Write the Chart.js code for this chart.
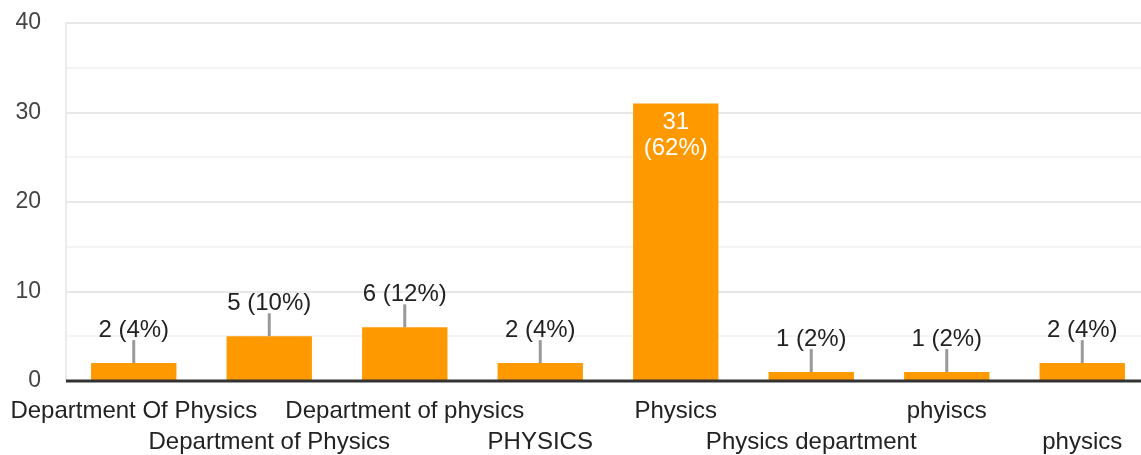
<!DOCTYPE html>
<html lang="en">
<head>
    <meta charset="UTF-8">
    <title>Department responses</title>
    <script src="https://cdn.jsdelivr.net/npm/chart.js"></script>
    <style>
        html, body {
            margin: 0;
            padding: 0;
            background: #ffffff;
            overflow: hidden;
        }
        .chart-box {
            position: relative;
            width: 1150px; /* plot runs slightly past the right edge in the original */
            height: 455px;
        }
    </style>
</head>
<body>
    <div class="chart-box">
        <canvas id="deptChart"></canvas>
    </div>

    <script>
        const categories = [
            'Department Of Physics',
            'Department of Physics',
            'Department of physics',
            'PHYSICS',
            'Physics',
            'Physics department',
            'phyiscs',
            'physics'
        ];
        const counts = [2, 5, 6, 2, 31, 1, 1, 2];
        const totalResponses = 50;
        const yTicks = [0, 10, 20, 30, 40];

        // alternate labels between the two rows under the axis
        const staggeredLabels = categories.map((c, i) => i % 2 === 0 ? [c, ''] : ['', c]);

        const fontFamily = "'Liberation Sans', Arial, sans-serif";

        const barLabels = {
            id: 'barLabels',
            afterDatasetsDraw(chart) {
                const ctx = chart.ctx;
                const meta = chart.getDatasetMeta(0);
                const area = chart.chartArea;
                const zeroY = chart.scales.y.getPixelForValue(0);

                ctx.save();
                // dark baseline
                ctx.strokeStyle = '#333333';
                ctx.lineWidth = 3;
                ctx.beginPath();
                ctx.moveTo(area.left, zeroY);
                ctx.lineTo(area.right, zeroY);
                ctx.stroke();

                ctx.font = '24px ' + fontFamily;
                ctx.textAlign = 'center';
                meta.data.forEach((bar, i) => {
                    const v = counts[i];
                    const pct = Math.round(v / totalResponses * 100);
                    if (v > 20) {
                        ctx.fillStyle = '#ffffff';
                        ctx.textBaseline = 'middle';
                        ctx.fillText(String(v), bar.x, bar.y + 19);
                        ctx.fillText('(' + pct + '%)', bar.x, bar.y + 45);
                    } else {
                        ctx.strokeStyle = '#999999';
                        ctx.lineWidth = 3;
                        ctx.beginPath();
                        ctx.moveTo(bar.x, bar.y);
                        ctx.lineTo(bar.x, bar.y - 23);
                        ctx.stroke();
                        ctx.fillStyle = '#222222';
                        ctx.textBaseline = 'alphabetic';
                        ctx.fillText(v + ' (' + pct + '%)', bar.x, bar.y - 26);
                    }
                });
                ctx.restore();
            }
        };

        const ctxDept = document.getElementById('deptChart').getContext('2d');
        const deptChart = new Chart(ctxDept, {
            type: 'bar',
            data: {
                labels: staggeredLabels,
                datasets: [{
                    label: 'Responses',
                    data: counts,
                    backgroundColor: '#ff9900',
                    borderWidth: 0,
                    barPercentage: 0.63,
                    categoryPercentage: 1
                }]
            },
            options: {
                responsive: true,
                maintainAspectRatio: false,
                animation: false,
                layout: {
                    padding: { top: 23, left: 0, right: 0, bottom: 0 }
                },
                plugins: {
                    legend: { display: false },
                    tooltip: { enabled: false }
                },
                scales: {
                    x: {
                        grid: { display: false, drawTicks: false },
                        border: { display: false },
                        afterFit: function(scale) {
                            scale.height = 74;
                            scale.paddingLeft = 0;
                            scale.paddingRight = 0;
                        },
                        ticks: {
                            autoSkip: false,
                            maxRotation: 0,
                            minRotation: 0,
                            padding: 15,
                            color: '#222222',
                            font: { family: fontFamily, size: 24, lineHeight: 1.3 }
                        }
                    },
                    y: {
                        min: yTicks[0],
                        max: yTicks[yTicks.length - 1],
                        afterFit: function(scale) {
                            scale.width = 66;
                            scale.paddingTop = 0;
                            scale.paddingBottom = 0;
                        },
                        border: { display: true, color: '#ebebeb', width: 2 },
                        grid: {
                            drawTicks: false,
                            lineWidth: 2,
                            color: function(c) {
                                const v = c.tick.value;
                                if (v === 0) return 'rgba(0,0,0,0)';
                                return v % 10 === 0 ? '#e8e8e8' : '#f4f4f4';
                            }
                        },
                        ticks: {
                            stepSize: 5,
                            padding: 25,
                            color: '#444444',
                            font: { family: fontFamily, size: 23 },
                            callback: function(value) {
                                return yTicks.includes(value) ? String(value) : '';
                            }
                        }
                    }
                }
            },
            plugins: [barLabels]
        });
    </script>
</body>
</html>
